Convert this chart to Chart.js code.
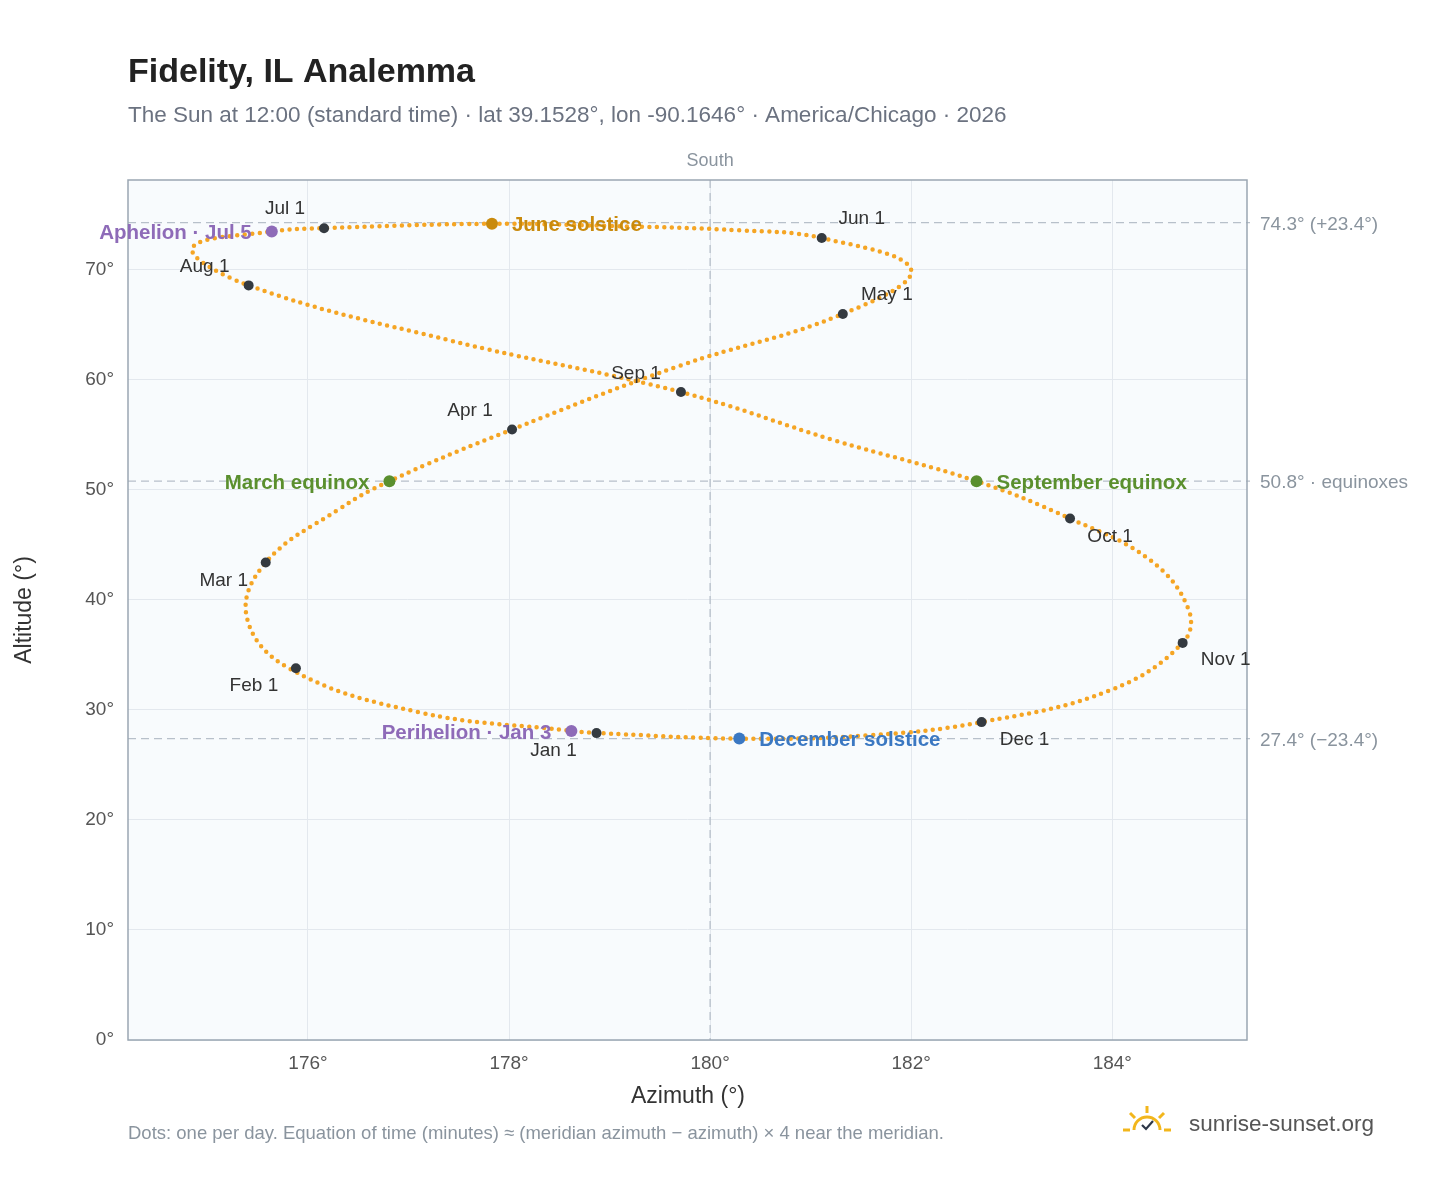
<!DOCTYPE html>
<html><head><meta charset="utf-8">
<script src="https://cdn.jsdelivr.net/npm/chart.js@4"></script>
<style>html,body{margin:0;padding:0;background:#fff}#w{width:1448px;height:1188px;position:relative}</style>
</head><body><div id="w"><canvas id="c" width="1448" height="1188"></canvas></div>
<script>
// Analemma path (azimuth °, altitude °), roughly twice a month
const pathAz  = [178.87,178.62,177.1,175.81,175.39,175.58,176.3,176.81,178.03,179.7,181.32,182.0,181.11,180.3,179.0,177.83,176.16,175.64,174.85,175.41,177.41,179.71,181.24,182.65,183.58,184.38,184.76,184.70,183.98,182.70,181.59,180.29,178.87];
const pathAlt = [27.9,28.1,29.8,33.8,38.5,43.4,48.2,50.8,55.5,61.3,66.0,70.0,72.9,73.6,74.0,74.2,73.8,73.5,72.0,68.6,63.6,58.9,54.5,50.8,47.4,43.6,39.1,36.1,31.8,28.9,27.7,27.4,27.9];
// Month-start markers
const monthNames = ["Jan 1","Feb 1","Mar 1","Apr 1","May 1","Jun 1","Jul 1","Aug 1","Sep 1","Oct 1","Nov 1","Dec 1"];
const monthAz  = [178.87,175.88,175.58,178.03,181.32,181.11,176.16,175.41,179.71,183.58,184.70,182.70];
const monthAlt = [27.9,33.8,43.4,55.5,66.0,72.9,73.8,68.6,58.9,47.4,36.1,28.9];
// Special events
const eventNames = ["June solstice","Aphelion · Jul 5","March equinox","September equinox","Perihelion · Jan 3","December solstice"];
const eventAz  = [177.83,175.64,176.81,182.65,178.62,180.29];
const eventAlt = [74.2,73.5,50.8,50.8,28.1,27.4];
const refAlt = [74.3,50.8,27.4];
const refLabels = ["74.3° (+23.4°)","50.8° · equinoxes","27.4° (−23.4°)"];
const xTicks = [176,178,180,182,184];

const evColors=['#c98a0c','#8e6bb8','#5a8f2e','#5a8f2e','#8e6bb8','#3b78c2'];
const evSide=[1,-1,-1,1,-1,1];
const mOff=[[-43,18],[-42,18],[-42,18],[-42,-19],[44,-19],[40,-19],[-39,-19],[-44,-19],[-45,-18],[40,18],[43,17],[43,18]];
const F='"Liberation Sans",Arial,Helvetica,sans-serif';

const deco={id:'deco',
beforeDatasetsDraw(ch){const{ctx,chartArea:a,scales:{x,y}}=ch;ctx.save();
 ctx.setLineDash([8,5]);ctx.strokeStyle='#b7c0ca';ctx.lineWidth=1.3;
 refAlt.forEach(v=>{const py=y.getPixelForValue(v);ctx.beginPath();ctx.moveTo(a.left,py);ctx.lineTo(1250,py);ctx.stroke();});
 const px=x.getPixelForValue(180);ctx.beginPath();ctx.moveTo(px,a.top);ctx.lineTo(px,a.bottom);ctx.stroke();
 ctx.restore();},
afterDraw(ch){const{ctx,chartArea:a,scales:{x,y}}=ch;ctx.save();
 ctx.strokeStyle='#9aa6b2';ctx.lineWidth=1.5;ctx.strokeRect(a.left,a.top,a.right-a.left,a.bottom-a.top);
 ctx.textBaseline='middle';
 ctx.fillStyle='#222';ctx.font='bold 34px '+F;ctx.textAlign='left';ctx.fillText('Fidelity, IL Analemma',128,73);
 ctx.fillStyle='#6b7280';ctx.font='22.5px '+F;ctx.fillText('The Sun at 12:00 (standard time) · lat 39.1528°, lon -90.1646° · America/Chicago · 2026',128,116);
 ctx.fillStyle='#8a949e';ctx.font='18px '+F;ctx.textAlign='center';ctx.fillText('South',x.getPixelForValue(180),161);
 ctx.font='19px '+F;ctx.textAlign='left';refAlt.forEach((v,i)=>ctx.fillText(refLabels[i],1260,y.getPixelForValue(v)+2));
 ctx.fillStyle='#333';ctx.font='23px '+F;ctx.textAlign='center';ctx.fillText('Azimuth (°)',688,1097);
 ctx.save();ctx.translate(25,610);ctx.rotate(-Math.PI/2);ctx.fillText('Altitude (°)',0,0);ctx.restore();
 ctx.fillStyle='#8a949e';ctx.font='18.5px '+F;ctx.textAlign='left';ctx.fillText('Dots: one per day. Equation of time (minutes) ≈ (meridian azimuth − azimuth) × 4 near the meridian.',128,1134);
 ctx.fillStyle='#555';ctx.font='22.5px '+F;ctx.fillText('sunrise-sunset.org',1189,1125);
 ctx.strokeStyle='#f2b61c';ctx.lineWidth=3;ctx.beginPath();ctx.arc(1147,1130,13,Math.PI,2*Math.PI);ctx.stroke();
 for(let k=0;k<5;k++){const t=Math.PI+k*Math.PI/4;ctx.beginPath();ctx.moveTo(1147+Math.cos(t)*17,1130+Math.sin(t)*17);ctx.lineTo(1147+Math.cos(t)*24,1130+Math.sin(t)*24);ctx.stroke();}
 ctx.strokeStyle='#2d3748';ctx.lineWidth=2.2;ctx.beginPath();ctx.moveTo(1142,1125);ctx.lineTo(1146,1129);ctx.lineTo(1153,1121);ctx.stroke();
 ctx.font='19px '+F;ctx.fillStyle='#333';ctx.textAlign='center';
 monthNames.forEach((n,i)=>ctx.fillText(n,x.getPixelForValue(monthAz[i])+mOff[i][0],y.getPixelForValue(monthAlt[i])+mOff[i][1]));
 ctx.font='bold 20.5px '+F;
 eventNames.forEach((n,i)=>{ctx.fillStyle=evColors[i];ctx.textAlign=evSide[i]>0?'left':'right';
  ctx.fillText(n,x.getPixelForValue(eventAz[i])+evSide[i]*20,y.getPixelForValue(eventAlt[i])+2);});
 ctx.restore();}};

const bg={id:'bg',beforeDraw(ch){const{ctx,chartArea:a}=ch;ctx.save();ctx.fillStyle='#fff';ctx.fillRect(0,0,ch.width,ch.height);ctx.fillStyle='#f8fbfd';ctx.fillRect(a.left,a.top,a.right-a.left,a.bottom-a.top);ctx.restore();}};

new Chart(document.getElementById('c'),{type:'scatter',
data:{datasets:[
 {data:monthAz.map((v,i)=>({x:v,y:monthAlt[i]})),pointRadius:5,pointBackgroundColor:'#343a40',pointBorderWidth:0,showLine:false},
 {data:eventAz.map((v,i)=>({x:v,y:eventAlt[i]})),pointRadius:6,pointBackgroundColor:evColors,pointBorderWidth:0,showLine:false},
 {data:pathAz.map((v,i)=>({x:v,y:pathAlt[i]})),showLine:true,pointRadius:0,tension:0.4,borderColor:'#f5a524',borderWidth:4.5,borderDash:[0,7.5],borderCapStyle:'round'}
]},
options:{responsive:false,animation:false,devicePixelRatio:1,
 layout:{padding:{top:180,right:201,left:0,bottom:0}},
 plugins:{legend:{display:false},tooltip:{enabled:false}},
 scales:{
  x:{type:'linear',min:174.21,max:185.34,afterFit:s=>{s.height=148;},
   afterBuildTicks:s=>{s.ticks=xTicks.map(v=>({value:v}));},
   grid:{color:'#e3e8ee',drawTicks:false},border:{display:false},
   ticks:{color:'#555',font:{size:19,family:F},padding:12,callback:v=>v+'°'}},
  y:{min:0,max:78.18,afterFit:s=>{s.width=128;},grid:{color:'#e3e8ee',drawTicks:false},border:{display:false},
   afterBuildTicks:s=>{s.ticks=[0,10,20,30,40,50,60,70].map(v=>({value:v}));},
   ticks:{color:'#555',font:{size:19,family:F},padding:14,callback:v=>v+'°'}}
 }},
plugins:[bg,deco]});
</script></body></html>
